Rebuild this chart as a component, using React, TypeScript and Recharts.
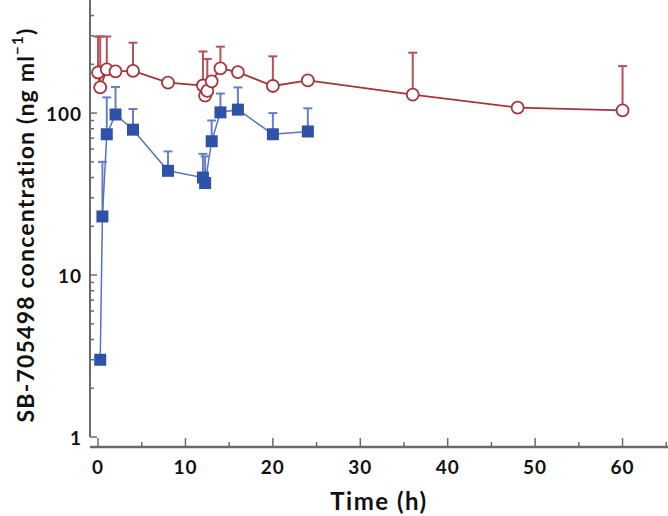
import React from "react";
import {
  LineChart,
  Line,
  XAxis,
  YAxis,
  ErrorBar,
  ReferenceLine,
  Label
} from "recharts";

// open red circles
const redTimes = [0, 0.25, 1, 2, 4, 8, 12, 12.25, 12.5, 13, 14, 16, 20, 24, 36, 48, 60];
const redMean = [178, 144, 186, 181, 182, 154, 148, 128, 137, 157, 189, 179, 147, 159, 130, 108, 104];
const redUpper = [297, 297, 297, null, 272, null, 240, null, 216, null, 257, null, 224, null, 236, null, 195];

// filled blue squares
const blueTimes = [0.25, 0.5, 1, 2, 4, 8, 12, 12.25, 13, 14, 16, 20, 24];
const blueMean = [3, 23, 74, 98, 79, 44, 40, 37, 67, 101, 105, 74, 77];
const blueUpper = [null, 50, 125, 145, 106, 58, 56, 54, 90, 132, 144, 100, 107];

const xTicks = [0, 5, 10, 15, 20, 25, 30, 35, 40, 45, 50, 55, 60, 65];
const yTicks = [
  1, 2, 3, 4, 5, 6, 7, 8, 9,
  10, 20, 30, 40, 50, 60, 70, 80, 90,
  100, 200, 300, 400
];
const yLabels = [1, 10, 100];

const RED = "#a8343a";
const RED_BAR = "#b85058";
const BLUE = "#2f51a8";
const BLUE_LINE = "#5474c2";
const BLUE_BAR = "#6580c6";
const AXIS = "#6a6a6a";
const FONT = "Lato, 'DejaVu Sans', sans-serif";

function build(times: number[], mean: number[], upper: (number | null)[]) {
  return times.map((t, i) => ({
    t,
    v: mean[i],
    err: upper[i] == null ? null : [0, (upper[i] as number) - mean[i]]
  }));
}

const redData = build(redTimes, redMean, redUpper);
const blueData = build(blueTimes, blueMean, blueUpper);

function YTick(props: any) {
  const { x, y, payload } = props;
  const major = yLabels.includes(payload.value);
  return (
    <g>
      <line x1={x} x2={x + (major ? 7 : 4)} y1={y} y2={y} stroke={AXIS} strokeWidth={1.5} />
      {major && (
        <text
          x={x - 8}
          y={y}
          textAnchor="end"
          dominantBaseline="central"
          fontFamily={FONT}
          fontWeight="bold"
          fontSize={19}
          letterSpacing={1}
          fill="#111"
        >
          {payload.value}
        </text>
      )}
    </g>
  );
}

function XTick(props: any) {
  const { x, y, payload } = props;
  const major = payload.value % 10 === 0;
  return (
    <g>
      <line x1={x} x2={x} y1={y} y2={y - (major ? 9 : 5)} stroke={AXIS} strokeWidth={1.5} />
      {major && (
        <text
          x={x}
          y={y + 19}
          textAnchor="middle"
          dominantBaseline="central"
          fontFamily={FONT}
          fontWeight="bold"
          fontSize={19}
          letterSpacing={1}
          fill="#111"
        >
          {payload.value}
        </text>
      )}
    </g>
  );
}

function Square(props: any) {
  const { cx, cy, index } = props;
  if (cx == null || cy == null) return <g key={index} />;
  return <rect key={index} x={cx - 6} y={cy - 6} width={12} height={12} fill={BLUE} />;
}

function YTitle(props: any) {
  const { viewBox } = props;
  const cx = 25;
  const cy = viewBox.y + 225;
  return (
    <text
      transform={`translate(${cx},${cy}) rotate(-90)`}
      textAnchor="middle"
      dominantBaseline="central"
      fontFamily={FONT}
      fontWeight="bold"
      fontSize={23}
      letterSpacing={1.2}
      fill="#111"
    >
      SB-705498 concentration (ng ml
      <tspan dy={-8} fontSize={15}>−1</tspan>
      <tspan dy={8}>)</tspan>
    </text>
  );
}

export default function App() {
  return (
    <div style={{ position: "absolute", left: 0, top: 0, background: "#fff" }}>
      <LineChart width={668} height={516} margin={{ top: 0, right: 0, bottom: 0, left: 0 }}>
        <XAxis
          type="number"
          dataKey="t"
          domain={[-0.92, 65.2]}
          allowDataOverflow
          ticks={xTicks}
          interval={0}
          tick={<XTick />}
          tickLine={false}
          tickSize={0}
          tickMargin={0}
          height={69}
          axisLine={{ stroke: AXIS, strokeWidth: 2.5 }}
        >
          <Label
            value="Time (h)"
            position="insideBottom"
            offset={6}
            fontFamily={FONT}
            fontWeight="bold"
            fontSize={24}
            letterSpacing={1.5}
            fill="#111"
          />
        </XAxis>
        <YAxis
          type="number"
          scale="log"
          domain={[0.868, 499]}
          allowDataOverflow
          ticks={yTicks}
          interval={0}
          tick={<YTick />}
          tickLine={false}
          tickSize={0}
          tickMargin={0}
          width={90}
          axisLine={false}
        >
          <Label content={<YTitle />} />
        </YAxis>
        <ReferenceLine
          segment={[{ x: -0.92, y: 1 }, { x: -0.92, y: 499 }]}
          stroke={AXIS}
          strokeWidth={2}
          ifOverflow="visible"
        />
        {/* error bars first so the markers cover the lower caps */}
        <Line
          data={redData}
          dataKey="v"
          stroke="none"
          isAnimationActive={false}
          dot={false}
          activeDot={false}
        >
          <ErrorBar dataKey="err" width={4.5} stroke={RED_BAR} strokeWidth={2} direction="y" />
        </Line>
        <Line
          data={blueData}
          dataKey="v"
          stroke="none"
          isAnimationActive={false}
          dot={false}
          activeDot={false}
        >
          <ErrorBar dataKey="err" width={4.5} stroke={BLUE_BAR} strokeWidth={2} direction="y" />
        </Line>
        <Line
          data={redData}
          dataKey="v"
          stroke={RED}
          strokeWidth={1.8}
          isAnimationActive={false}
          dot={{ r: 6, fill: "#fff", stroke: RED, strokeWidth: 1.8 }}
          activeDot={false}
        />
        <Line
          data={blueData}
          dataKey="v"
          stroke={BLUE_LINE}
          strokeWidth={1.5}
          isAnimationActive={false}
          dot={<Square />}
          activeDot={false}
        />
      </LineChart>
    </div>
  );
}
